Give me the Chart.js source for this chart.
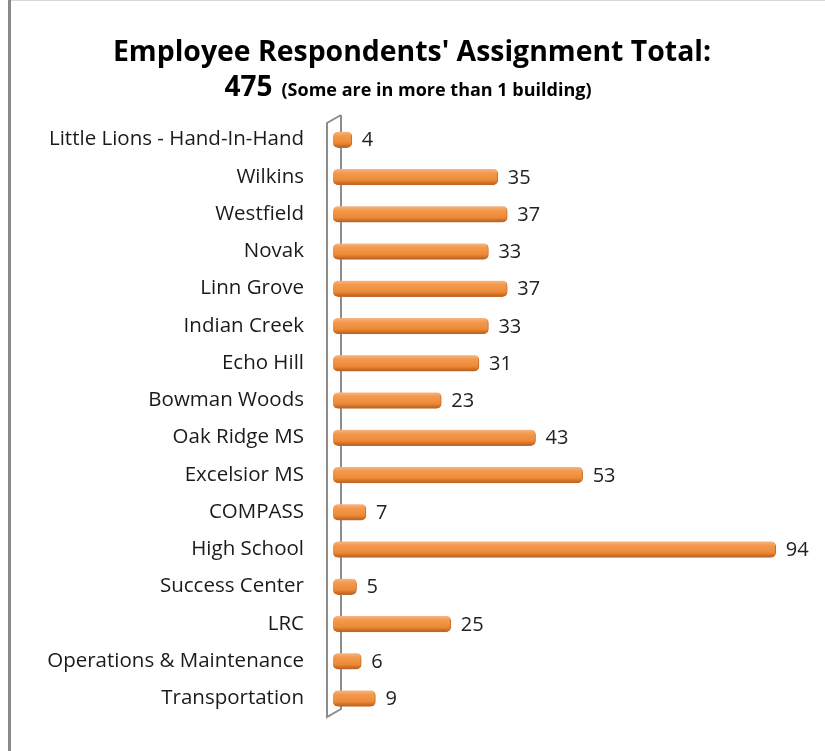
<!DOCTYPE html>
<html>
<head>
<meta charset="utf-8">
<script src="https://cdn.jsdelivr.net/npm/chart.js@4.4.0/dist/chart.umd.min.js"></script>
<style>
  html, body { margin: 0; padding: 0; background: #fff; }
  #wrap { position: relative; width: 825px; height: 751px; }
</style>
</head>
<body>
<div id="wrap"><canvas id="chart" width="825" height="751"></canvas></div>
<script>
// Buildings, top to bottom as in the picture
const buildings = [
  "Little Lions - Hand-In-Hand", "Wilkins", "Westfield", "Novak", "Linn Grove",
  "Indian Creek", "Echo Hill", "Bowman Woods", "Oak Ridge MS", "Excelsior MS",
  "COMPASS", "High School", "Success Center", "LRC", "Operations & Maintenance",
  "Transportation"
];
const respondents = [4, 35, 37, 33, 37, 33, 31, 23, 43, 53, 7, 94, 5, 25, 6, 9];

const titleLine = "Employee Respondents' Assignment Total:";
const totalText = "475";
const noteText = "(Some are in more than 1 building)";

const FONT = "'Open Sans', Lato, sans-serif";

// Cylinder look: vertical gradient across each bar
function barGradient(ctx) {
  const chart = ctx.chart;
  const y = chart.scales.y;
  if (!y || ctx.dataIndex === undefined) return "#F0913F";
  const cy = y.getPixelForValue(ctx.dataIndex);
  if (!Number.isFinite(cy)) return "#F0913F";
  const g = chart.ctx.createLinearGradient(0, cy - 8, 0, cy + 8);
  g.addColorStop(0, "#F6B684");
  g.addColorStop(0.25, "#F39A4E");
  g.addColorStop(0.7, "#EE8A36");
  g.addColorStop(1, "#B45E22");
  return g;
}

// Frame, title lines, the 3D side wall and the value labels
const decor = {
  id: "decor",
  beforeDraw(chart) {
    const c = chart.ctx;
    c.save();
    c.fillStyle = "#fff";
    c.fillRect(0, 0, chart.width, chart.height);
    c.fillStyle = "#d8d8d8";
    c.fillRect(11, 0, chart.width - 11, 1);
    c.fillStyle = "#8a8a8a";
    c.fillRect(8, 0, 3, chart.height);

    c.fillStyle = "#000";
    c.textAlign = "center";
    c.textBaseline = "alphabetic";
    c.font = "bold 28.4px " + FONT;
    c.fillText(titleLine, 412, 61);

    c.font = "bold 28px " + FONT;
    const w1 = c.measureText(totalText).width;
    c.font = "bold 18px " + FONT;
    const w2 = c.measureText(noteText).width;
    const gap = 9;
    const x0 = 408 - (w1 + gap + w2) / 2;
    c.textAlign = "left";
    c.font = "bold 28px " + FONT;
    c.fillText(totalText, x0, 96);
    c.font = "bold 18px " + FONT;
    c.fillText(noteText, x0 + w1 + gap, 96);

    // side wall of the category axis
    const a = chart.chartArea;
    const l = a.left - 6, r = a.left + 8;
    c.strokeStyle = "#8c8c8c";
    c.lineWidth = 2;
    c.beginPath();
    c.moveTo(r, a.top - 6);
    c.lineTo(l, a.top + 2);
    c.lineTo(l, a.bottom);
    c.lineTo(r, a.bottom - 8);
    c.lineTo(r, a.top - 6);
    c.stroke();
    c.restore();
  },
  afterDatasetsDraw(chart) {
    const c = chart.ctx;
    const meta = chart.getDatasetMeta(0);
    c.save();
    c.fillStyle = "#222";
    c.font = "20px " + FONT;
    c.textAlign = "left";
    c.textBaseline = "middle";
    meta.data.forEach((bar, i) => {
      c.fillText(String(respondents[i]), bar.x + 10, bar.y + 1);
    });
    c.restore();
  }
};

new Chart(document.getElementById("chart"), {
  type: "bar",
  data: {
    labels: buildings,
    datasets: [{
      data: respondents,
      backgroundColor: barGradient,
      borderColor: "#C56A28",
      borderWidth: { top: 0, left: 0, bottom: 1, right: 1 },
      borderRadius: { topLeft: 5, bottomLeft: 5, topRight: 5, bottomRight: 5 },
      borderSkipped: false,
      barThickness: 16
    }]
  },
  options: {
    indexAxis: "y",
    responsive: false,
    animation: false,
    layout: {
      padding: { top: 121, bottom: 34, left: 0, right: 21 }
    },
    plugins: {
      legend: { display: false },
      title: { display: false },
      tooltip: { enabled: false }
    },
    scales: {
      x: {
        display: false,
        min: 0,
        max: 100
      },
      y: {
        afterFit: (scale) => { scale.width = 333; },
        // invisible tick marks keep the labels clear of the side wall
        grid: {
          display: true,
          drawOnChartArea: false,
          drawTicks: true,
          tickLength: 27,
          color: "rgba(0,0,0,0)"
        },
        border: { display: false },
        ticks: {
          color: "#1a1a1a",
          padding: 2,
          font: { family: FONT, size: 20.5 }
        }
      }
    }
  },
  plugins: [decor]
});
</script>
</body>
</html>
